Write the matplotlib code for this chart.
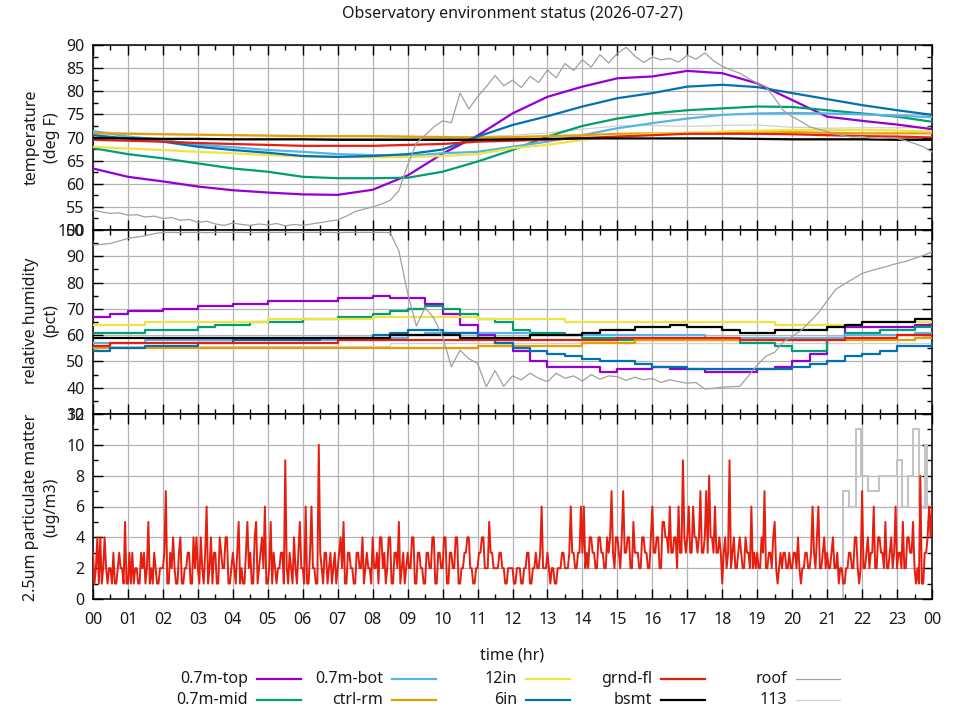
import numpy as np
import matplotlib
matplotlib.use('Agg')
import matplotlib.pyplot as plt
from matplotlib.lines import Line2D

plt.rcParams['font.family'] = ['Noto Sans', 'DejaVu Sans']

# ---- time grids ----
HOURS = np.arange(0, 25)                 # hourly samples
HALF = np.linspace(0, 24, 49)            # half-hourly samples
QUARTER = np.linspace(0, 24, 97)         # quarter-hour samples
PM_TIME = np.linspace(0, 24, 577)        # 2.5 minute samples

# ---- temperature (deg F), hourly ----
temp_top = [63.3, 61.5, 60.5, 59.4, 58.6, 58.1, 57.7, 57.6, 58.7, 61.8, 66.5, 70.4,
            75.2, 78.8, 81.0, 82.8, 83.2, 84.4, 83.9, 81.7, 78.1, 74.5, 73.6, 72.8, 71.8]
temp_mid = [67.7, 66.4, 65.5, 64.4, 63.3, 62.6, 61.5, 61.2, 61.2, 61.3, 62.6, 64.8,
            67.3, 70.2, 72.5, 74.1, 75.2, 75.9, 76.3, 76.7, 76.6, 75.9, 75.2, 74.5, 73.4]
temp_bot = [71.4, 70.2, 69.5, 68.4, 67.9, 67.3, 66.9, 66.4, 66.2, 66.0, 66.6, 66.9,
            68.0, 69.1, 70.5, 72.0, 73.1, 74.1, 74.9, 75.2, 75.3, 75.2, 75.0, 74.7, 74.4]
temp_ctrl = [70.9, 70.8, 70.7, 70.6, 70.5, 70.4, 70.3, 70.3, 70.3, 70.2, 70.1, 70.0,
             70.1, 70.3, 70.5, 70.8, 70.9, 71.0, 71.1, 71.3, 71.2, 71.0, 70.9, 70.9, 70.9]
temp_12in = [68.0, 67.6, 67.3, 66.9, 66.6, 66.2, 65.9, 65.8, 65.7, 65.8, 66.0, 66.4,
             67.7, 68.4, 69.5, 70.2, 70.8, 71.0, 71.3, 71.5, 71.6, 71.6, 71.6, 71.5, 71.3]
temp_6in = [70.5, 69.8, 69.1, 68.0, 67.3, 66.7, 66.0, 65.8, 66.0, 66.4, 67.4, 70.2,
            72.7, 74.6, 76.7, 78.5, 79.6, 81.0, 81.4, 80.9, 79.6, 78.3, 77.0, 75.9, 74.9]
temp_grnd = [69.5, 69.3, 69.1, 68.8, 68.6, 68.4, 68.2, 68.2, 68.2, 68.4, 68.6, 69.1,
             69.3, 69.5, 69.9, 70.2, 70.5, 70.8, 70.8, 70.8, 70.7, 70.5, 70.3, 70.2, 70.0]
temp_bsmt = [69.9, 69.8, 69.7, 69.7, 69.6, 69.6, 69.6, 69.5, 69.5, 69.5, 69.5, 69.5,
             69.6, 69.7, 69.8, 69.8, 69.8, 69.8, 69.8, 69.7, 69.6, 69.6, 69.6, 69.5, 69.5]
temp_113 = [71.2, 71.0, 70.8, 70.7, 70.6, 70.5, 70.4, 70.3, 70.2, 70.1, 70.0, 70.2,
            70.5, 71.0, 71.8, 72.5, 72.6, 72.4, 72.6, 72.7, 72.2, 72.0, 72.1, 72.1, 72.2]
# roof, quarter-hourly
temp_roof = [54.3, 53.9, 53.6, 53.7, 53.2, 53.3, 52.8, 53.0, 52.5, 52.7, 52.1, 52.3,
             51.6, 51.9, 51.3, 51.0, 51.5, 51.2, 51.0, 51.3, 51.1, 51.4, 50.9, 51.2,
             51.0, 51.3, 51.6, 51.9, 52.2, 53.0, 54.0, 54.5, 55.0, 55.6, 56.4, 58.5,
             64.0, 68.8, 70.5, 72.3, 73.6, 73.2, 79.6, 76.2, 78.8, 81.0, 83.4, 81.2,
             82.4, 80.8, 83.2, 81.9, 84.6, 82.9, 86.0, 84.5, 86.8, 85.2, 87.9, 86.1,
             88.2, 89.5, 87.6, 86.2, 87.4, 86.8, 87.1, 86.3, 87.8, 86.9, 88.3, 86.6,
             85.4, 84.6, 83.9, 82.8, 81.7, 81.0, 78.5, 75.8, 74.5, 73.5, 72.3, 71.8,
             71.3, 70.8, 70.3, 70.1, 70.2, 69.9, 69.8, 69.9, 69.8, 69.3, 68.7, 68.0,
             66.9]

# ---- relative humidity (pct), half-hourly ----
rh_top = [67, 68, 69, 69, 70, 70, 71, 71, 72, 72, 73, 73, 73, 73, 74, 74, 75, 74,
          74, 72, 68, 64, 60, 57, 54, 50, 48, 48, 48, 46, 47, 47, 48, 47, 47, 46,
          46, 46, 47, 48, 50, 53, 59, 63, 63, 63, 63, 64, 64]
rh_mid = [61, 61, 61, 62, 62, 62, 63, 64, 64, 65, 65, 65, 66, 66, 67, 67, 68, 69,
          70, 71, 70, 68, 66, 65, 62, 61, 61, 60, 59, 59, 58, 58, 58, 58, 58, 58,
          58, 57, 57, 56, 54, 54, 59, 61, 61, 62, 62, 63, 63]
rh_bot = [57, 57, 57, 58, 58, 58, 58, 58, 58, 58, 58, 58, 58, 58, 58, 58, 58, 59,
          60, 61, 61, 61, 61, 61, 61, 60, 60, 60, 60, 60, 60, 60, 60, 60, 60, 59,
          59, 59, 59, 59, 59, 59, 59, 60, 60, 60, 60, 61, 61]
rh_ctrl = [55, 55, 55, 55, 55, 55, 55, 55, 55, 55, 55, 55, 55, 55, 55, 55, 55, 55,
           55, 55, 55, 55, 56, 56, 56, 56, 56, 56, 57, 57, 57, 58, 58, 58, 58, 58,
           58, 58, 58, 58, 58, 58, 58, 58, 58, 58, 58, 59, 59]
rh_12in = [64, 64, 64, 65, 65, 65, 65, 65, 65, 65, 66, 66, 66, 66, 66, 66, 67, 67,
           67, 67, 67, 67, 66, 66, 66, 66, 66, 65, 65, 65, 65, 65, 65, 65, 65, 65,
           65, 65, 65, 64, 64, 64, 64, 64, 65, 65, 65, 65, 65]
rh_6in = [54, 55, 55, 56, 56, 56, 57, 57, 58, 58, 58, 58, 58, 59, 59, 59, 60, 61,
          62, 62, 61, 61, 59, 57, 55, 54, 53, 52, 51, 50, 50, 49, 48, 48, 47, 47,
          47, 47, 47, 47, 48, 49, 50, 52, 53, 54, 56, 56, 57]
rh_grnd = [56, 57, 57, 57, 57, 57, 57, 57, 57, 57, 57, 57, 57, 57, 58, 58, 58, 58,
           58, 58, 58, 58, 58, 58, 58, 58, 58, 58, 58, 58, 59, 59, 59, 59, 59, 59,
           59, 58, 58, 58, 58, 58, 58, 59, 59, 59, 60, 60, 60]
rh_bsmt = [59, 59, 59, 59, 59, 59, 59, 59, 59, 59, 59, 59, 59, 59, 59, 59, 59, 60,
           60, 60, 60, 59, 59, 59, 59, 60, 60, 60, 61, 62, 62, 63, 63, 64, 63, 63,
           62, 61, 61, 62, 62, 62, 63, 64, 65, 65, 65, 66, 66]
rh_113 = [56, 56, 56, 56, 56, 56, 56, 56, 56, 56, 56, 56, 56, 56, 56, 56, 56, 57,
          57, 57, 57, 57, 57, 57, 57, 57, 57, 57, 57, 57, 57, 57, 57, 57, 57, 57,
          57, 57, 57, 57, 57, 57, 57, 57, 57, 57, 57, 57, 57]
# roof, quarter-hourly
rh_roof = [94.3, 94.5, 94.9, 95.8, 96.8, 97.3, 97.8, 98.6, 99.1, 99.1, 99.0, 99.1,
           99.1, 99.0, 99.1, 99.1, 99.1, 99.1, 99.0, 99.1, 99.1, 99.1, 99.1, 99.0,
           99.1, 99.1, 99.1, 99.1, 99.0, 99.1, 99.1, 99.1, 99.1, 99.1, 99.0, 92.0,
           76.0, 63.5, 70.5, 66.5, 59.4, 48.0, 54.3, 51.0, 49.3, 40.4, 46.5, 40.5,
           44.5, 43.0, 45.5, 43.6, 42.3, 45.5, 43.6, 44.5, 42.5, 45.0, 43.2, 44.5,
           44.2, 42.8, 44.0, 43.0, 43.5, 42.0, 43.0, 42.3, 41.7, 42.0, 39.5, 39.8,
           40.2, 40.4, 40.5, 44.5, 48.6, 52.0, 53.5, 57.5, 59.5, 61.8, 65.0, 68.5,
           73.0, 77.5, 79.5, 81.5, 83.5, 84.5, 85.4, 86.3, 87.3, 88.0, 89.2, 90.3,
           91.7]

# ---- 2.5um particulate matter (ug/m3), one row per hour ----
pm_grnd = [3, 1, 2, 4, 1, 4, 1, 2, 4, 2, 1, 2, 2, 1, 3, 1, 1, 2, 3, 2, 2, 1, 5, 1,
           1, 3, 1, 3, 1, 2, 2, 1, 1, 3, 2, 3, 1, 2, 5, 1, 2, 1, 3, 2, 1, 1, 2, 2,
           2, 3, 7, 1, 1, 3, 2, 4, 2, 1, 1, 3, 4, 1, 1, 2, 2, 3, 3, 1, 1, 4, 2, 4,
           2, 1, 4, 2, 1, 3, 6, 1, 2, 4, 1, 3, 3, 1, 1, 4, 3, 2, 2, 4, 4, 1, 1, 2,
           3, 2, 1, 3, 5, 1, 2, 1, 1, 3, 5, 2, 3, 1, 1, 4, 5, 1, 2, 3, 4, 2, 6, 1,
           1, 2, 5, 1, 3, 2, 1, 2, 2, 3, 3, 1, 9, 2, 1, 3, 2, 1, 4, 2, 1, 3, 5, 2,
           2, 1, 6, 1, 1, 3, 6, 2, 2, 1, 1, 10, 3, 2, 1, 3, 3, 1, 2, 3, 1, 2, 3, 1,
           2, 3, 4, 2, 5, 1, 1, 3, 3, 2, 2, 1, 1, 3, 3, 2, 2, 4, 1, 2, 3, 2, 2, 1,
           4, 2, 2, 3, 1, 4, 4, 2, 3, 1, 2, 4, 4, 1, 1, 3, 3, 2, 5, 1, 2, 3, 1, 2,
           3, 2, 2, 4, 4, 1, 1, 3, 3, 2, 2, 1, 1, 3, 3, 2, 2, 4, 4, 1, 1, 3, 3, 2,
           2, 4, 4, 1, 1, 3, 3, 2, 2, 4, 4, 1, 1, 2, 2, 3, 3, 4, 4, 2, 2, 1, 1, 2,
           2, 3, 3, 4, 4, 2, 2, 2, 5, 3, 3, 2, 2, 2, 2, 3, 3, 2, 2, 1, 1, 2, 2, 2,
           2, 1, 1, 2, 2, 2, 1, 1, 2, 2, 3, 3, 1, 1, 2, 2, 3, 2, 2, 3, 6, 2, 2, 2,
           3, 2, 1, 2, 2, 1, 1, 2, 2, 2, 3, 3, 2, 2, 2, 3, 6, 3, 3, 2, 2, 3, 3, 6,
           3, 6, 2, 3, 2, 4, 4, 3, 3, 2, 2, 4, 4, 3, 3, 2, 2, 4, 3, 4, 7, 3, 2, 4,
           4, 3, 2, 4, 7, 3, 3, 4, 4, 2, 2, 5, 3, 3, 3, 2, 2, 4, 4, 3, 3, 2, 2, 4,
           6, 3, 3, 4, 4, 2, 2, 5, 5, 4, 4, 3, 6, 3, 3, 4, 4, 2, 6, 3, 3, 9, 4, 3,
           4, 6, 3, 3, 6, 4, 4, 3, 4, 7, 3, 3, 4, 7, 3, 8, 4, 4, 3, 6, 3, 3, 4, 3,
           1, 3, 4, 2, 3, 9, 2, 3, 4, 2, 2, 3, 4, 3, 2, 2, 4, 3, 3, 2, 6, 2, 3, 2,
           3, 2, 2, 4, 3, 7, 2, 2, 3, 3, 2, 4, 5, 2, 1, 2, 3, 2, 3, 3, 2, 2, 3, 2,
           2, 3, 3, 2, 4, 2, 1, 2, 2, 3, 3, 2, 2, 3, 6, 3, 2, 4, 6, 2, 2, 3, 4, 2,
           3, 2, 2, 3, 4, 2, 2, 3, 1, 2, 2, 1, 1, 2, 2, 3, 3, 2, 2, 4, 4, 2, 1, 2,
           7, 2, 2, 3, 4, 2, 3, 3, 6, 2, 2, 4, 4, 3, 3, 2, 5, 2, 2, 3, 4, 2, 3, 6,
           2, 3, 3, 2, 5, 2, 2, 4, 4, 3, 3, 5, 2, 1, 2, 1, 8, 1, 1, 3, 3, 4, 6, 4,
           6]
pm_113_time = [21.46, 21.46, 21.63, 21.82, 21.98, 22.16, 22.47, 22.99, 23.15,
               23.32, 23.46, 23.63, 23.80, 23.86]
pm_113 = [0, 7, 6, 11, 8, 7, 8, 9, 6, 8, 11, 6, 10, 6]

SERIES = ['0.7m-top', '0.7m-mid', '0.7m-bot', 'ctrl-rm', '12in', '6in',
          'grnd-fl', 'bsmt', 'roof', '113']
COLORS = ['#9400d3', '#009e73', '#56b4e9', '#e69f00', '#f0e442', '#0072b2',
          '#e51e10', '#000000', '#a0a0a0', '#d0d0d0']
WIDTHS = [1.6] * 8 + [0.9, 0.9]

FS = 11.5
fig = plt.figure(figsize=(9.6, 7.2), dpi=100)
L, W = 93 / 960, 839 / 960


def panel(top_px, bot_px):
    return fig.add_axes([L, 1 - bot_px / 720, W, (bot_px - top_px) / 720])


ax_t = panel(45, 230)
ax_h = panel(230, 414)
ax_p = panel(414, 599)

# temperature
temps = [temp_top, temp_mid, temp_bot, temp_ctrl, temp_12in, temp_6in,
         temp_grnd, temp_bsmt]
for vals, c, lw in zip(temps, COLORS, WIDTHS):
    ax_t.plot(HOURS, vals, color=c, lw=lw, zorder=3)
ax_t.plot(QUARTER, temp_roof, color=COLORS[8], lw=WIDTHS[8], zorder=3, clip_on=False)
ax_t.plot(HOURS, temp_113, color=COLORS[9], lw=WIDTHS[9], zorder=2)

# humidity
rhs = [rh_top, rh_mid, rh_bot, rh_ctrl, rh_12in, rh_6in, rh_grnd, rh_bsmt]
for vals, c, lw in zip(rhs, COLORS, WIDTHS):
    ax_h.plot(HALF, vals, color=c, lw=lw, drawstyle='steps-post', zorder=3)
ax_h.plot(QUARTER, rh_roof, color=COLORS[8], lw=WIDTHS[8], zorder=3)
ax_h.plot(HALF, rh_113, color=COLORS[9], lw=WIDTHS[9], drawstyle='steps-post', zorder=2)

# particulate matter
ax_p.plot(PM_TIME, pm_grnd, color=COLORS[6], lw=1.4, zorder=3)
ax_p.plot(pm_113_time, pm_113, color='#c4c4c4', lw=1.5, drawstyle='steps-post', zorder=2)

limits = [(ax_t, 50, 90, 5), (ax_h, 30, 100, 10), (ax_p, 0, 12, 2)]
for ax, lo, hi, step in limits:
    ax.set_xlim(0, 24)
    ax.set_ylim(lo, hi)
    ax.set_yticks(np.arange(lo, hi + 0.1, step))
    ax.set_yticks(np.arange(lo, hi + 0.1, step / 2), minor=True)
    ax.set_xticks(HOURS)
    ax.set_xticks(np.arange(0, 24.01, 0.5), minor=True)
    ax.grid(True, which='major', color='#b4b4b4', lw=0.9, zorder=0)
    ax.tick_params(which='both', direction='in', top=True, right=True,
                   labelsize=FS, labelcolor='#1a1a1a', pad=6)
    ax.tick_params(which='major', length=7, width=1)
    ax.tick_params(which='minor', length=3.5, width=1)
    ax.yaxis.set_major_formatter(matplotlib.ticker.FormatStrFormatter('%d'))
    for s in ax.spines.values():
        s.set_linewidth(1.1)
    if ax is not ax_p:
        ax.tick_params(labelbottom=False)

ax_p.set_xticklabels(['%02d' % (h % 24) for h in HOURS])
ax_p.tick_params(axis='x', pad=9)

fig.text(512.5 / 960, 1 - 14 / 720, 'Observatory environment status (2026-07-27)',
         ha='center', va='center', fontsize=FS, color='#1a1a1a')
fig.text(512.5 / 960, 1 - 655 / 720, 'time (hr)', ha='center', va='center',
         fontsize=FS, color='#1a1a1a')

ylabels = [('temperature\n(deg F)', 137.5), ('relative humidity\n(pct)', 320.5),
           ('2.5um particulate matter\n(ug/m3)', 507)]
for txt, yc in ylabels:
    fig.text(41.5 / 960, 1 - yc / 720, txt, rotation=90, ha='center', va='center',
             fontsize=FS, linespacing=1.35, multialignment='center', color='#1a1a1a')

# legend: 5 columns, 2 rows, text right-aligned before the sample line
col_right = [248, 383, 517, 652, 787]
row_y = [679, 700]
for i, (name, c) in enumerate(zip(SERIES, COLORS)):
    col, row = divmod(i, 2)
    xr = col_right[col]
    y = 1 - row_y[row] / 720
    fig.text(xr / 960, y, name, ha='right', va='center', fontsize=FS, color='#1a1a1a')
    lw = 1.6 if i < 8 else 0.9
    fig.add_artist(Line2D([(xr + 9) / 960, (xr + 53) / 960], [y, y], color=c, lw=lw,
                          transform=fig.transFigure))

fig.savefig('out.png', dpi=100)
